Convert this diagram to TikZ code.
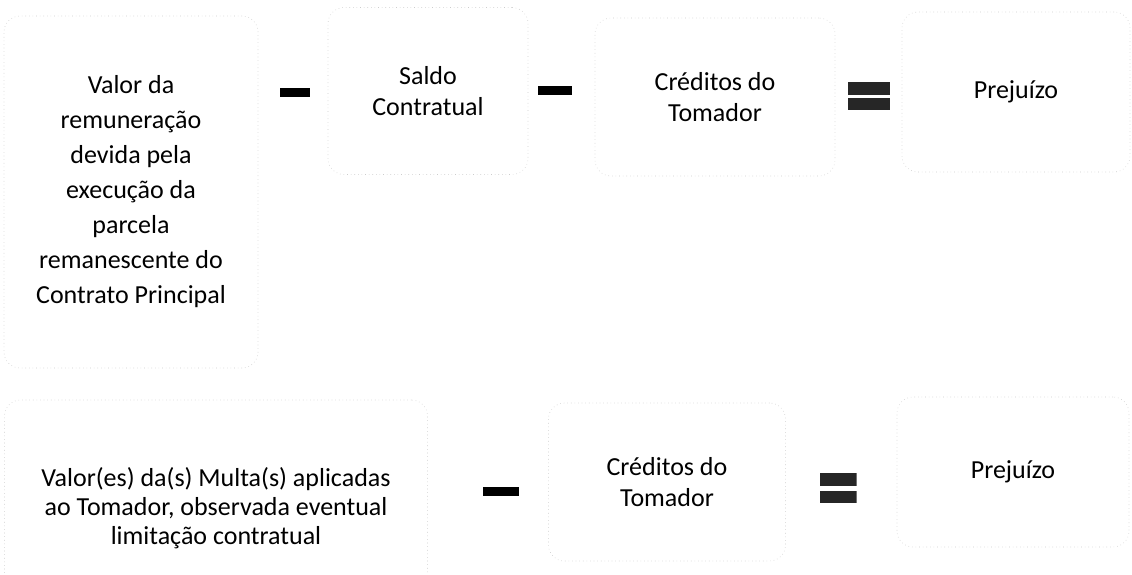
\documentclass[tikz,border=0pt]{standalone}
\usepackage{fontspec}
\setmainfont{Carlito}
\usepackage{tikz}
\usetikzlibrary{positioning}

\begin{document}
\begin{tikzpicture}[x=1pt,y=-1pt,
  termbox/.style={draw=black!20,line width=0.6pt,dash pattern=on 0.6pt off 3pt,
    rounded corners=16pt,align=center,inner sep=0pt,
    font=\fontsize{26}{31}\selectfont},
  minusop/.style={fill=black,minimum width=34pt,minimum height=9pt,inner sep=0pt},
  equalsop/.style={minimum width=38pt,minimum height=28pt,inner sep=0pt,
    path picture={
      \fill[black!85] (path picture bounding box.north west) rectangle
        ([yshift=-12.5pt]path picture bounding box.north east);
      \fill[black!85] (path picture bounding box.south west) rectangle
        ([yshift=12.5pt]path picture bounding box.south east);}}]
  \useasboundingbox (0,0) rectangle (1132,574);
  % first equation
  \node[termbox,minimum width=254pt,minimum height=352pt,
    font=\fontsize{26}{35}\selectfont] (remuneracao) at (131,192)
    {Valor da\\remuneração\\devida pela\\execução da\\parcela\\remanescente do\\Contrato Principal};
  \node[minusop,minimum width=30pt] (minusA) at (295,92) {};
  \node[termbox,minimum width=200pt,minimum height=167pt] (saldo) at (428,91)
    {Saldo\\Contratual};
  \node[minusop] (minusB) at (555,90) {};
  \node[termbox,minimum width=240pt,minimum height=158pt] (creditosA) at (715,97)
    {Créditos do\\Tomador};
  \node[equalsop,minimum width=42pt] (equalsA) at (869,96) {};
  \node[termbox,minimum width=228pt,minimum height=160pt] (prejuizoA) at (1016,92)
    {Prejuízo};
  % second equation
  \node[termbox,minimum width=423pt,minimum height=216pt,
    font=\fontsize{26}{29}\selectfont] (multas) at (216,508)
    {Valor(es) da(s) Multa(s) aplicadas\\ao Tomador, observada eventual\\limitação contratual};
  \node[minusop,minimum width=36pt] (minusC) at (501,491) {};
  \node[termbox,minimum width=237pt,minimum height=158pt] (creditosB) at (667,482)
    {Créditos do\\Tomador};
  \node[equalsop,minimum width=37pt,minimum height=30pt] (equalsB) at (838,488) {};
  \node[termbox,minimum width=232pt,minimum height=150pt] (prejuizoB) at (1013,472)
    {Prejuízo};
\end{tikzpicture}
\end{document}
